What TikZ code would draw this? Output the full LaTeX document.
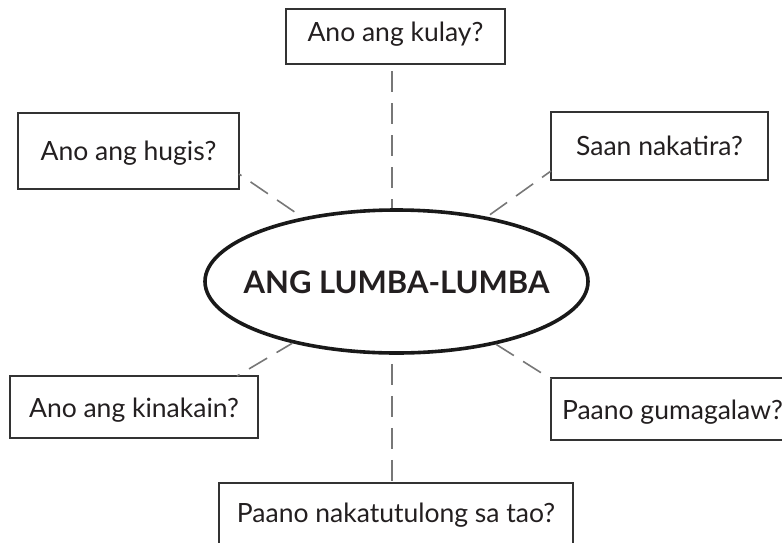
\documentclass[tikz,border=0pt]{standalone}
\usepackage{fontspec}
\setmainfont{Lato}
\usetikzlibrary{shapes.geometric}
\definecolor{boxline}{HTML}{333333}
\definecolor{dashcol}{HTML}{777777}
\definecolor{txt}{HTML}{231F20}
\tikzset{
  qbox/.style={draw=boxline, line width=1.3pt, rectangle, inner sep=0pt,
    text=txt, font=\fontsize{26.5}{30}\selectfont, text depth=0pt},
  conn/.style={draw=dashcol, line width=1.6pt, dash pattern=on 21pt off 11pt},
}
\begin{document}
\begin{tikzpicture}[x=1pt,y=-1pt]
\useasboundingbox (0,0) rectangle (782,542);
\clip (0,0) rectangle (782,542);
% central ellipse
\node[ellipse, draw=black!90, line width=3.6pt, minimum width=383pt, minimum height=143pt,
  inner sep=0pt, text=txt, font=\bfseries\fontsize{31}{35}\selectfont, text height=23pt, text depth=0pt]
  (lumba) at (396.5,281.5) {\makebox[0pt][c]{ANG LUMBA-LUMBA}};
% question boxes
\node[qbox, minimum width=219pt, minimum height=55pt, text height=9pt] (kulay) at (395.5,36.5) {Ano ang kulay?};
\node[qbox, minimum width=221pt, minimum height=76pt, text height=18pt] (hugis) at (128.5,151) {Ano ang hugis?};
\node[qbox, minimum width=217pt, minimum height=68pt, text height=18pt] (saan) at (659.5,146) {Saan nakatira?};
\node[qbox, minimum width=248pt, minimum height=62pt, text height=20pt] (kain) at (134,407) {Ano ang kinakain?};
\node[qbox, minimum width=243pt, minimum height=62pt, text height=20pt] (galaw) at (672.5,409) {Paano gumagalaw?};
\node[qbox, minimum width=354pt, minimum height=63pt, text height=15pt] (tulong) at (396,514.5) {Paano nakatutulong sa tao?};
% connector end points on the boxes
\coordinate (kt) at (392,64);
\coordinate (tt) at (392,483);
\coordinate (ht) at (239,174);
\coordinate (st) at (551,171);
\coordinate (kn) at (237,376);
\coordinate (gt) at (551,379);
% dashed connectors
\draw[conn, dash phase=25pt] (kt) -- (kt |- lumba.north);
\draw[conn, dash phase=23pt] (lumba.south -| tt) -- (tt);
\draw[conn, dash phase=18pt] (ht) -- (lumba);
\draw[conn, dash phase=10pt] (st) -- (lumba);
\draw[conn, dash phase=18pt] (kn) -- (lumba);
\draw[conn, dash phase=0pt] (lumba) -- (gt);
\end{tikzpicture}
\end{document}
